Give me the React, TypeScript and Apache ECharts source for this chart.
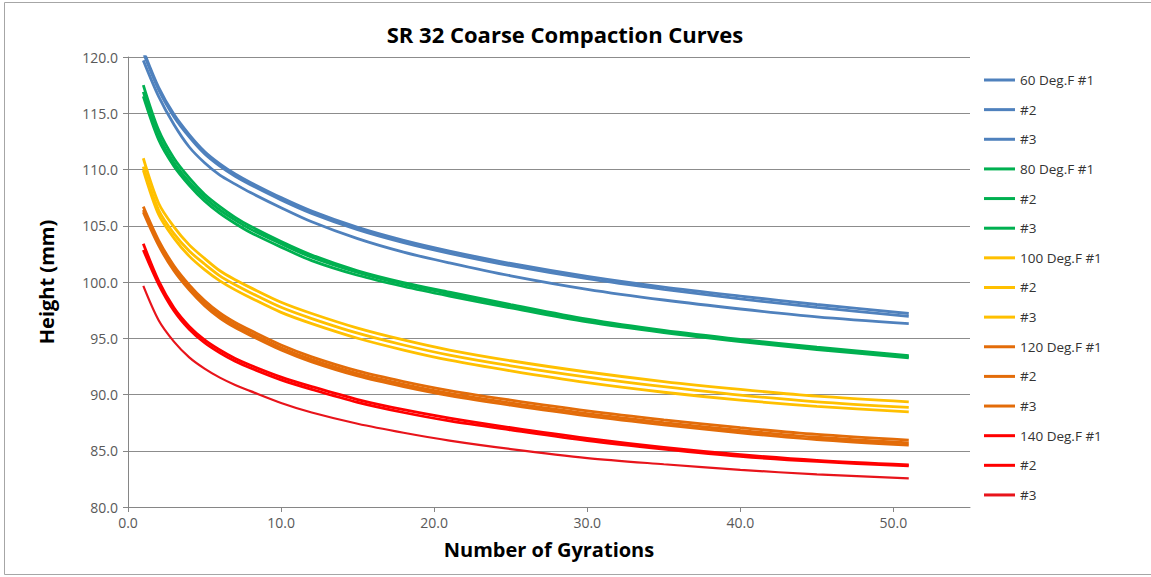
import React, { useEffect, useRef } from "react";
import * as echarts from "echarts";

const GYRATIONS = [1, 2, 3, 4, 5, 6, 7, 8, 10, 12, 15, 18, 21, 25, 30, 35, 40, 45, 51];

// 60 Deg.F
const F60_1 = [120.6, 117.3, 114.9, 113.1, 111.6, 110.5, 109.6, 108.85, 107.5, 106.3, 104.85, 103.7, 102.75, 101.65, 100.5, 99.55, 98.75, 98.0, 97.2];
const F60_2 = [120.4, 117.1, 114.7, 112.9, 111.4, 110.3, 109.4, 108.65, 107.3, 106.1, 104.65, 103.5, 102.55, 101.45, 100.3, 99.35, 98.5, 97.75, 96.95];
const F60_3 = [119.7, 116.5, 114.0, 112.0, 110.6, 109.5, 108.7, 107.95, 106.6, 105.35, 103.85, 102.65, 101.7, 100.55, 99.35, 98.4, 97.6, 96.9, 96.3];
// 80 Deg.F
const F80_1 = [117.5, 113.5, 111.0, 109.25, 107.8, 106.7, 105.75, 104.95, 103.6, 102.4, 101.0, 99.95, 99.1, 98.0, 96.7, 95.7, 94.9, 94.2, 93.45];
const F80_2 = [116.9, 113.0, 110.6, 108.9, 107.5, 106.4, 105.5, 104.7, 103.4, 102.2, 100.85, 99.8, 98.95, 97.9, 96.6, 95.6, 94.8, 94.1, 93.35];
const F80_3 = [116.5, 112.65, 110.3, 108.6, 107.2, 106.1, 105.2, 104.4, 103.1, 101.9, 100.6, 99.6, 98.75, 97.7, 96.45, 95.5, 94.7, 94.0, 93.25];
// 100 Deg.F
const F100_1 = [111.0, 107.0, 104.9, 103.3, 102.1, 101.0, 100.2, 99.5, 98.2, 97.2, 95.9, 94.85, 93.95, 93.0, 92.0, 91.15, 90.45, 89.85, 89.35];
const F100_2 = [110.25, 106.4, 104.3, 102.75, 101.6, 100.55, 99.75, 99.05, 97.75, 96.75, 95.45, 94.4, 93.5, 92.55, 91.55, 90.7, 89.95, 89.35, 88.85];
const F100_3 = [109.95, 106.0, 103.9, 102.3, 101.1, 100.1, 99.3, 98.6, 97.3, 96.3, 95.0, 93.95, 93.05, 92.1, 91.05, 90.2, 89.5, 88.95, 88.45];
// 120 Deg.F
const F120_1 = [106.7, 103.7, 101.45, 99.75, 98.35, 97.25, 96.4, 95.7, 94.4, 93.35, 92.1, 91.15, 90.35, 89.5, 88.55, 87.75, 87.05, 86.45, 85.95];
const F120_2 = [106.4, 103.45, 101.2, 99.5, 98.1, 97.0, 96.15, 95.45, 94.15, 93.1, 91.85, 90.9, 90.1, 89.25, 88.3, 87.5, 86.8, 86.2, 85.7];
const F120_3 = [106.2, 103.25, 101.0, 99.3, 97.9, 96.8, 95.95, 95.25, 93.95, 92.9, 91.65, 90.7, 89.9, 89.05, 88.1, 87.3, 86.6, 86.0, 85.5];
// 140 Deg.F
const F140_1 = [103.4, 100.1, 97.7, 96.05, 94.85, 93.95, 93.2, 92.6, 91.55, 90.7, 89.55, 88.65, 87.9, 87.05, 86.1, 85.3, 84.65, 84.15, 83.75];
const F140_2 = [102.85, 99.8, 97.45, 95.8, 94.6, 93.7, 92.95, 92.35, 91.3, 90.45, 89.3, 88.4, 87.65, 86.85, 85.9, 85.15, 84.5, 84.05, 83.65];
const F140_3 = [99.65, 96.6, 94.7, 93.3, 92.3, 91.5, 90.85, 90.3, 89.25, 88.4, 87.4, 86.6, 85.9, 85.15, 84.35, 83.8, 83.3, 82.9, 82.55];

const SERIES_NAMES = [
  "60 Deg.F #1", "60 Deg.F #2", "60 Deg.F #3",
  "80 Deg.F #1", "80 Deg.F #2", "80 Deg.F #3",
  "100 Deg.F #1", "100 Deg.F #2", "100 Deg.F #3",
  "120 Deg.F #1", "120 Deg.F #2", "120 Deg.F #3",
  "140 Deg.F #1", "140 Deg.F #2", "140 Deg.F #3",
];
const LEGEND_LABELS = [
  "60 Deg.F #1", "#2", "#3",
  "80 Deg.F #1", "#2", "#3",
  "100 Deg.F #1", "#2", "#3",
  "120 Deg.F #1", "#2", "#3",
  "140 Deg.F #1", "#2", "#3",
];
const SERIES_VALUES = [F60_1, F60_2, F60_3, F80_1, F80_2, F80_3, F100_1, F100_2, F100_3, F120_1, F120_2, F120_3, F140_1, F140_2, F140_3];
const X_TICKS = [0, 10, 20, 30, 40, 50];

const COLORS = [
  "#4F81BD", "#4F81BD", "#4F81BD",
  "#00B050", "#00B050", "#00B050",
  "#FFC000", "#FFC000", "#FFC000",
  "#E36C09", "#E36C09", "#E36C09",
  "#FF0000", "#FF0000", "#E8141B",
];

const FONT = "'Open Sans', Lato, sans-serif";

export default function App() {
  const ref = useRef<HTMLDivElement>(null);

  useEffect(() => {
    document.body.style.margin = "0";
    const chart = echarts.init(ref.current!, null, { renderer: "svg" });
    const labelMap: Record<string, string> = {};
    SERIES_NAMES.forEach((n, i) => (labelMap[n] = LEGEND_LABELS[i]));

    chart.setOption({
      animation: false,
      backgroundColor: "#ffffff",
      textStyle: { fontFamily: FONT },
      title: {
        text: "SR 32 Coarse Compaction Curves",
        left: 560,
        textAlign: "center",
        top: 18,
        textStyle: { fontFamily: FONT, fontSize: 22, fontWeight: "bold", color: "#000" },
      },
      graphic: [
        {
          type: "rect",
          shape: { x: 4.5, y: 2.5, width: 1160, height: 572 },
          style: { fill: "none", stroke: "#A6A6A6", lineWidth: 1 },
          silent: true,
        },
      ],
      legend: {
        orient: "vertical",
        left: 979,
        top: 68,
        icon: "rect",
        itemWidth: 31,
        itemHeight: 3,
        itemGap: 15.64,
        data: SERIES_NAMES,
        formatter: (name: string) => labelMap[name] ?? name,
        textStyle: { fontFamily: FONT, fontSize: 13.5, lineHeight: 14, color: "#333" },
      },
      grid: { left: 128, top: 57, right: 181, bottom: 70, containLabel: false },
      xAxis: {
        type: "value",
        min: 0,
        max: 55,
        interval: 10,
        name: "Number of Gyrations",
        nameLocation: "middle",
        nameGap: 32,
        nameTextStyle: { fontFamily: FONT, fontSize: 20, fontWeight: "bold", color: "#000" },
        axisLine: { show: true, onZero: false, lineStyle: { color: "#868686", width: 1 } },
        axisTick: { show: true, length: 5, lineStyle: { color: "#868686" }, customValues: X_TICKS },
        axisLabel: {
          customValues: X_TICKS,
          formatter: (v: number) => (v > 50 ? "" : v.toFixed(1)),
          fontFamily: FONT,
          fontSize: 14,
          color: "#595959",
          margin: 8,
        },
        splitLine: { show: false },
      },
      yAxis: {
        type: "value",
        min: 80,
        max: 120,
        interval: 5,
        name: "Height (mm)",
        nameLocation: "middle",
        nameGap: 72,
        nameRotate: 90,
        nameTextStyle: { fontFamily: FONT, fontSize: 20, fontWeight: "bold", color: "#000" },
        axisLine: { show: true, lineStyle: { color: "#868686", width: 1 } },
        axisTick: { show: true, length: 5, lineStyle: { color: "#868686" } },
        axisLabel: {
          formatter: (v: number) => v.toFixed(1),
          fontFamily: FONT,
          fontSize: 14,
          color: "#595959",
          margin: 10,
        },
        splitLine: { show: true, lineStyle: { color: "#8C8C8C", width: 1 } },
      },
      series: SERIES_VALUES.map((vals, i) => ({
        name: SERIES_NAMES[i],
        type: "line",
        data: GYRATIONS.map((g, j) => [g, vals[j]]),
        symbol: "none",
        showSymbol: false,
        smooth: 0.3,
        clip: true,
        color: COLORS[i],
        lineStyle: { color: COLORS[i], width: i === 14 ? 2.2 : 2.8 },
        emphasis: { disabled: true },
      })),
    });

    return () => chart.dispose();
  }, []);

  return <div ref={ref} style={{ width: 1151, height: 577 }} />;
}
